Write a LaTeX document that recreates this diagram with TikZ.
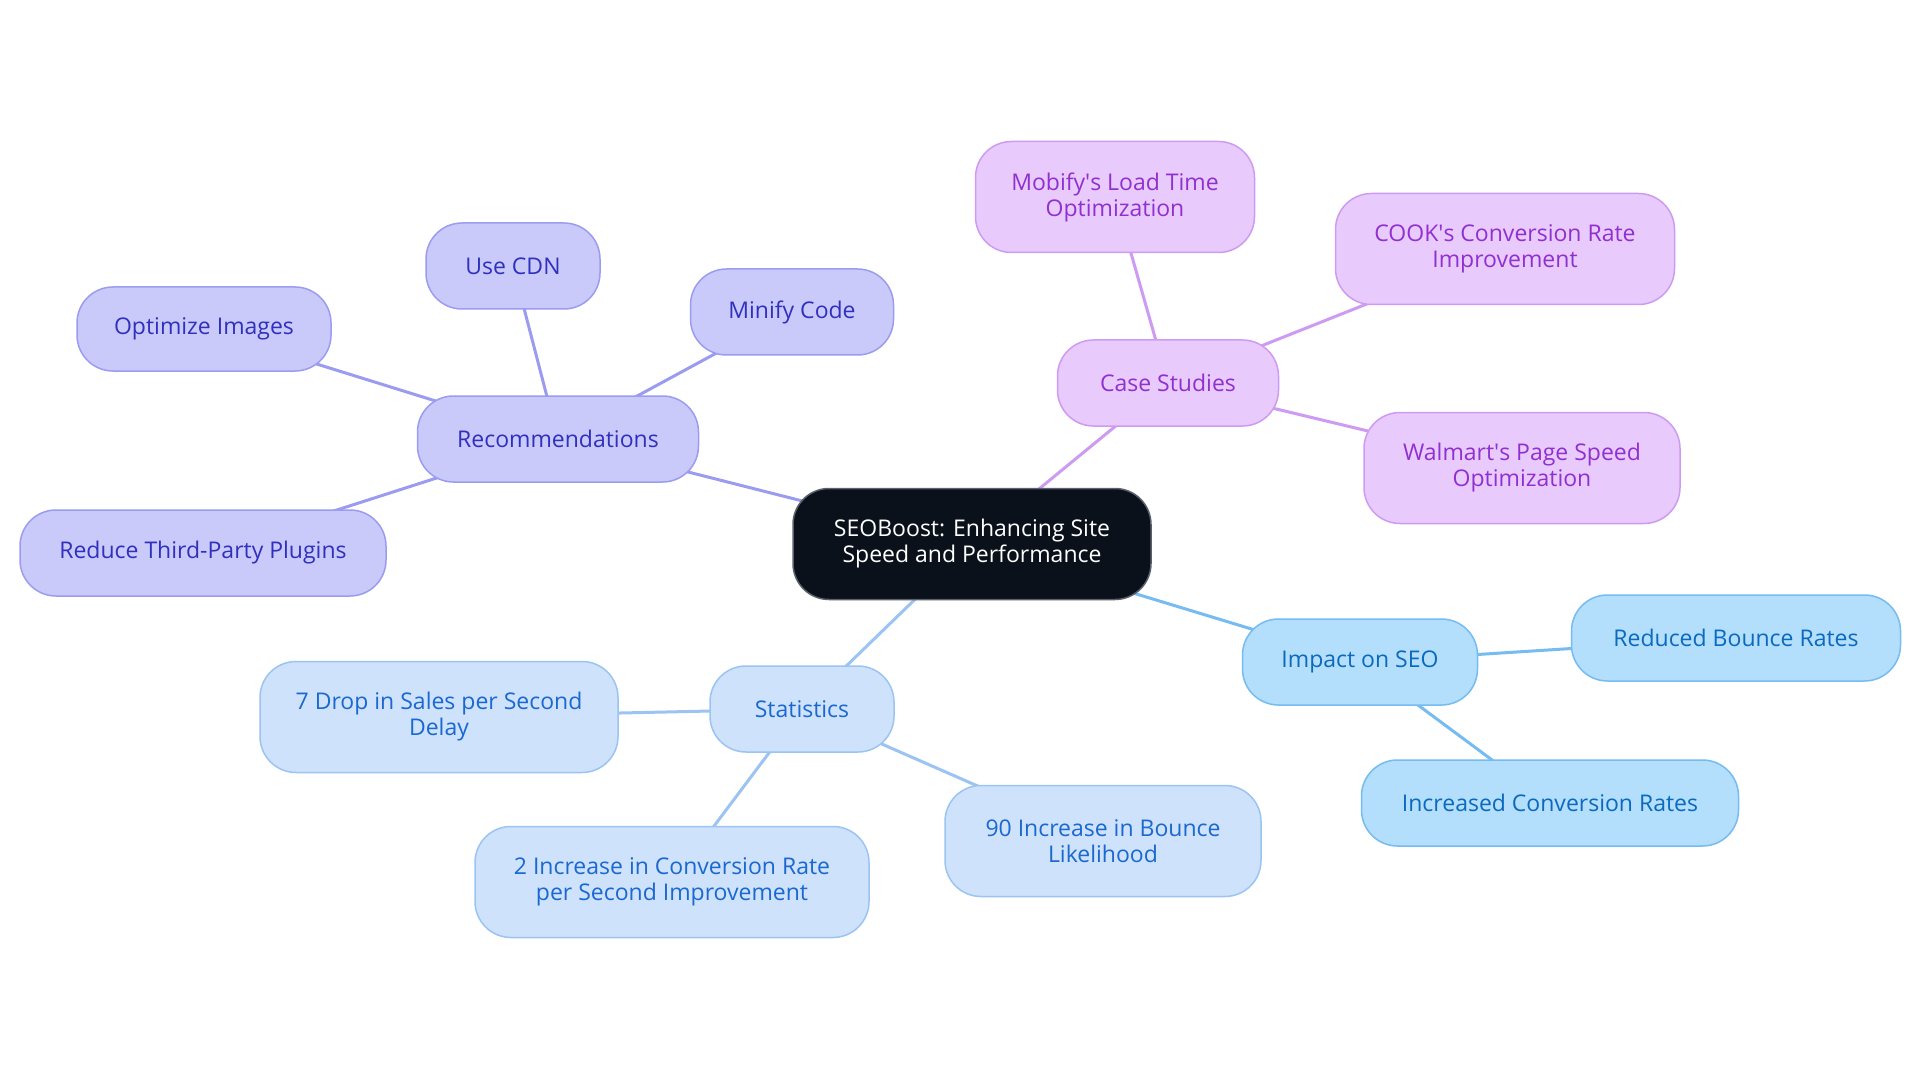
\documentclass[tikz,border=0pt]{standalone}
\usepackage{fontspec}
\setmainfont{Open Sans}
\usetikzlibrary{backgrounds}
\definecolor{cfill}{RGB}{11,17,27}
\definecolor{cborder}{RGB}{90,96,108}
\definecolor{recfill}{RGB}{201,202,250}
\definecolor{recline}{RGB}{155,156,240}
\definecolor{rectext}{RGB}{48,48,190}
\definecolor{csfill}{RGB}{232,202,252}
\definecolor{csline}{RGB}{206,155,242}
\definecolor{cstext}{RGB}{144,48,208}
\definecolor{impfill}{RGB}{179,222,252}
\definecolor{impline}{RGB}{118,188,240}
\definecolor{imptext}{RGB}{11,106,190}
\definecolor{statfill}{RGB}{206,226,251}
\definecolor{statline}{RGB}{155,196,242}
\definecolor{stattext}{RGB}{26,104,208}
\tikzset{
  box/.style={rectangle, rounded corners=36pt, line width=1.5pt, align=center,
    inner sep=0pt, minimum height=86pt,
    font=\fontsize{23}{26}\selectfont},
  tall/.style={minimum height=111pt},
  central/.style={box, tall, fill=cfill, draw=cborder, text=white},
  recbox/.style={box, fill=recfill, draw=recline, text=rectext},
  csbox/.style={box, fill=csfill, draw=csline, text=cstext},
  impbox/.style={box, fill=impfill, draw=impline, text=imptext},
  statbox/.style={box, fill=statfill, draw=statline, text=stattext},
  edge/.style={line width=3pt},
}
\begin{document}
\begin{tikzpicture}[x=1pt,y=-1pt]
\useasboundingbox (0,0) rectangle (1920,1083);
\node[central, minimum width=358pt] (c) at (972,544) {SEOBoost: Enhancing Site\\Speed and Performance};
% Recommendations
\node[recbox, minimum width=281pt] (rec) at (558,439) {Recommendations};
\node[recbox, minimum width=254pt, minimum height=84pt] (opt) at (204,329) {Optimize Images};
\node[recbox, minimum width=174pt] (cdn) at (513,266) {Use CDN};
\node[recbox, minimum width=203pt] (minc) at (792,312) {Minify Code};
\node[recbox, minimum width=366pt] (red) at (203,553) {Reduce Third-Party Plugins};
% Case studies
\node[csbox, minimum width=221pt] (cs) at (1168,383) {Case Studies};
\node[csbox, tall, minimum width=279pt] (mob) at (1115,197) {Mobify\textquotesingle s Load Time\\Optimization};
\node[csbox, tall, minimum width=339pt] (cook) at (1505,249) {COOK\textquotesingle s Conversion Rate\\Improvement};
\node[csbox, tall, minimum width=316pt] (wal) at (1522,468) {Walmart\textquotesingle s Page Speed\\Optimization};
% Impact
\node[impbox, minimum width=235pt] (imp) at (1360,662) {Impact on SEO};
\node[impbox, minimum width=329pt] (rbr) at (1736,638) {Reduced Bounce Rates};
\node[impbox, minimum width=377pt] (icr) at (1550,803) {Increased Conversion Rates};
% Statistics
\node[statbox, minimum width=184pt] (stat) at (802,709) {Statistics};
\node[statbox, tall, minimum width=358pt] (drop) at (439,717) {7 Drop in Sales per Second\\Delay};
\node[statbox, tall, minimum width=394pt] (inc) at (672,882) {2 Increase in Conversion Rate\\per Second Improvement};
\node[statbox, tall, minimum width=316pt] (bnc) at (1103,841) {90 Increase in Bounce\\Likelihood};
\begin{scope}[on background layer]
\fill[white] (0,0) rectangle (1920,1083);
\draw[edge, recline] (c.center) -- (rec.center);
\draw[edge, recline] (rec.center) -- (opt.center);
\draw[edge, recline] (rec.center) -- (cdn.center);
\draw[edge, recline] (rec.center) -- (minc.center);
\draw[edge, recline] (rec.center) -- (red.center);
\draw[edge, csline] (c.center) -- (cs.center);
\draw[edge, csline] (cs.center) -- (mob.center);
\draw[edge, csline] (cs.center) -- (cook.center);
\draw[edge, csline] (cs.center) -- (wal.center);
\draw[edge, impline] (c.center) -- (imp.center);
\draw[edge, impline] (imp.center) -- (rbr.center);
\draw[edge, impline] (imp.center) -- (icr.center);
\draw[edge, statline] (c.center) -- (stat.center);
\draw[edge, statline] (stat.center) -- (drop.center);
\draw[edge, statline] (stat.center) -- (inc.center);
\draw[edge, statline] (stat.center) -- (bnc.center);
\end{scope}
\end{tikzpicture}
\end{document}
